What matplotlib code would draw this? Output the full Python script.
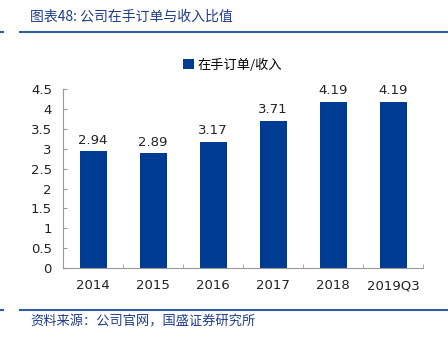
import matplotlib
matplotlib.use("Agg")
import matplotlib.pyplot as plt
from matplotlib.lines import Line2D

plt.rcParams["font.family"] = ["DejaVu Sans", "Noto Sans CJK SC"]

categories = ["2014", "2015", "2016", "2017", "2018", "2019Q3"]
ratio = [2.94, 2.89, 3.17, 3.71, 4.19, 4.19]
yticks = [0, 0.5, 1, 1.5, 2, 2.5, 3, 3.5, 4, 4.5]
ytick_labels = ["0", "0.5", "1", "1.5", "2", "2.5", "3", "3.5", "4", "4.5"]
series_name = "在手订单/收入"
title = "图表48: 公司在手订单与收入比值"
source = "资料来源：公司官网，国盛证券研究所"

BAR = "#003B93"
LINE = "#2F5DA6"
TXT = "#1F3C88"
CJK = ["Noto Sans CJK SC", "DejaVu Sans"]

fig = plt.figure(figsize=(4.48, 3.41), dpi=100)

# header / footer decoration
for ypix in (32, 310):
    yf = 1 - ypix / 341
    fig.add_artist(Line2D([20 / 448, 1], [yf, yf], color=LINE, lw=1.5))
    fig.add_artist(Line2D([0, 3 / 448], [yf, yf], color=LINE, lw=1.5))

fig.text(30 / 448, 1 - 17 / 341, title, family=CJK, fontsize=10,
         color=TXT, style="italic", va="center", ha="left")
fig.text(30 / 448, 1 - 322 / 341, source, family=CJK, fontsize=9.5,
         color=TXT, style="italic", va="center", ha="left")

ax = fig.add_axes([63 / 448, 73 / 341, 360 / 448, 178.6 / 341])

x = range(len(categories))
ax.bar(x, ratio, width=0.45, color=BAR, label=series_name)

for xi, v in zip(x, ratio):
    ax.text(xi, v + 0.12, f"{v:.2f}", ha="center", va="bottom",
            fontsize=9.5, color="#222222")

ax.set_xlim(-0.5, len(categories) - 0.5)
ax.set_ylim(0, 4.5)
ax.set_yticks(yticks)
ax.set_yticklabels(ytick_labels)
ax.set_xticks(list(x))
ax.set_xticklabels(categories)
ax.set_xticks([i + 0.5 for i in range(len(categories))], minor=True)

ax.tick_params(axis="y", direction="in", length=3, color="#999999",
               labelsize=9.5, pad=8, labelcolor="#222222")
ax.tick_params(axis="x", which="major", length=0, labelsize=9.5, pad=8,
               labelcolor="#222222")
ax.tick_params(axis="x", which="minor", direction="in", length=3,
               color="#999999")

for s in ["top", "right"]:
    ax.spines[s].set_visible(False)
for s in ["left", "bottom"]:
    ax.spines[s].set_color("#999999")
    ax.spines[s].set_linewidth(0.8)

ax.legend(loc="center", bbox_to_anchor=(170 / 360, 1 + (89.4 - 65) / 178.6),
          frameon=False, prop={"family": CJK, "size": 9.5},
          handlelength=0.8, handleheight=0.8, handletextpad=0.3)

fig.savefig("out.png", dpi=100)
